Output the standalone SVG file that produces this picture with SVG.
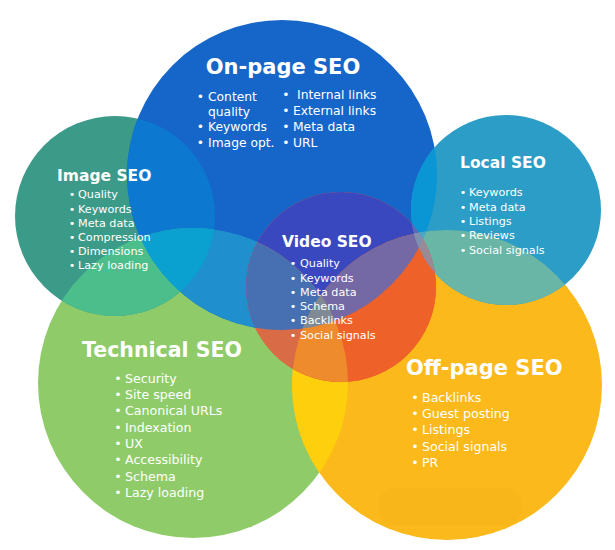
<svg xmlns="http://www.w3.org/2000/svg" xmlns:xlink="http://www.w3.org/1999/xlink" width="615" height="550" viewBox="0 0 615 550">
<style>
  .t{font-family:"DejaVu Sans","Liberation Sans",sans-serif;fill:#ffffff;}
  .h{font-weight:700;}
  .big{font-size:21px;}
  .mid{font-size:15.5px;}
  .l1{font-size:12.3px;}
  .l2{font-size:11.2px;}
  .l3{font-size:12.6px;}
</style>
<defs>
  <circle id="cI" cx="115" cy="216" r="100"/>
  <circle id="cO" cx="282" cy="175" r="155"/>
  <circle id="cL" cx="506" cy="210" r="95"/>
  <circle id="cT" cx="193" cy="383" r="155"/>
  <circle id="cF" cx="447" cy="385" r="155"/>
  <circle id="cV" cx="341" cy="287" r="95"/>
  <clipPath id="kI"><circle cx="115" cy="216" r="100"/></clipPath>
  <clipPath id="kO"><circle cx="282" cy="175" r="155"/></clipPath>
  <clipPath id="kL"><circle cx="506" cy="210" r="95"/></clipPath>
  <clipPath id="kT"><circle cx="193" cy="383" r="155"/></clipPath>
  <clipPath id="kF"><circle cx="447" cy="385" r="155"/></clipPath>
</defs>
<rect width="615" height="550" fill="#ffffff"/>
<g id="circles">
  <use id="circle-technical-seo" xlink:href="#cT" fill="#8fcc69"/>
  <use id="circle-off-page-seo" xlink:href="#cF" fill="#fbb91c"/>
  <use id="circle-image-seo" xlink:href="#cI" fill="#3c9a89"/>
  <use id="circle-on-page-seo" xlink:href="#cO" fill="#1666c9"/>
  <use id="circle-local-seo" xlink:href="#cL" fill="#2b9dc6"/>
  <use id="circle-video-seo" xlink:href="#cV" fill="#ee6128"/>
</g>
<g id="overlaps">
  <use xlink:href="#cO" clip-path="url(#kI)" fill="#0c78cf"/>
  <use xlink:href="#cT" clip-path="url(#kI)" fill="#4cbe8b"/>
  <use xlink:href="#cL" clip-path="url(#kO)" fill="#0a96d5"/>
  <use xlink:href="#cT" clip-path="url(#kO)" fill="#1f8fcd"/>
  <use xlink:href="#cF" clip-path="url(#kO)" fill="#3d8fc0"/>
  <use xlink:href="#cV" clip-path="url(#kO)" fill="#3a48c0"/>
  <use xlink:href="#cF" clip-path="url(#kL)" fill="#69b5a6"/>
  <use xlink:href="#cV" clip-path="url(#kL)" fill="#6a7fb0"/>
  <use xlink:href="#cF" clip-path="url(#kT)" fill="#fdcf0c"/>
  <use xlink:href="#cV" clip-path="url(#kT)" fill="#d96b47"/>
  <use xlink:href="#cV" clip-path="url(#kF)" fill="#ee6128"/>
  <g clip-path="url(#kI)"><use xlink:href="#cT" clip-path="url(#kO)" fill="#0aa0d0"/></g>
  <g clip-path="url(#kO)"><use xlink:href="#cV" clip-path="url(#kT)" fill="#4670b2"/></g>
  <g clip-path="url(#kO)"><use xlink:href="#cV" clip-path="url(#kF)" fill="#7469a4"/></g>
  <g clip-path="url(#kT)"><use xlink:href="#cV" clip-path="url(#kF)" fill="#ee8b2c"/></g>
  <g clip-path="url(#kO)"><use xlink:href="#cF" clip-path="url(#kL)" fill="#45a8c4"/></g>
  <g clip-path="url(#kO)"><use xlink:href="#cV" clip-path="url(#kL)" fill="#5a6ab8"/></g>
  <g clip-path="url(#kL)"><use xlink:href="#cV" clip-path="url(#kF)" fill="#9a8a98"/></g>
  <g clip-path="url(#kO)"><use xlink:href="#cF" clip-path="url(#kT)" fill="#8a8a80"/></g>
  <g clip-path="url(#kO)"><g clip-path="url(#kT)"><use xlink:href="#cV" clip-path="url(#kF)" fill="#7f8a94"/></g></g>
  <g clip-path="url(#kO)"><g clip-path="url(#kL)"><use xlink:href="#cV" clip-path="url(#kF)" fill="#7f8fb0"/></g></g>
  <rect x="378" y="488" width="144" height="37" rx="18" fill="#f2a814" opacity="0.15"/>
</g>
<g id="node-on-page-seo">
  <text class="t h big" x="283" y="74" text-anchor="middle">On-page SEO</text>
  <text class="t l1" y="101"><tspan x="196.8">•</tspan><tspan x="208">Content</tspan></text>
  <text class="t l1" x="208" y="115.5">quality</text>
  <text class="t l1" y="131"><tspan x="196.8">•</tspan><tspan x="208">Keywords</tspan></text>
  <text class="t l1" y="147"><tspan x="196.8">•</tspan><tspan x="208">Image opt.</tspan></text>
  <text class="t l1" y="99"><tspan x="282.3">•</tspan><tspan x="297">Internal links</tspan></text>
  <text class="t l1" y="115"><tspan x="282.3">•</tspan><tspan x="293">External links</tspan></text>
  <text class="t l1" y="131"><tspan x="282.3">•</tspan><tspan x="293">Meta data</tspan></text>
  <text class="t l1" y="147"><tspan x="282.3">•</tspan><tspan x="293">URL</tspan></text>
</g>
<g id="node-image-seo">
  <text class="t h mid" x="57" y="180.5">Image SEO</text>
  <text class="t l2" y="198"><tspan x="68.7">•</tspan><tspan x="78">Quality</tspan></text>
  <text class="t l2" y="213"><tspan x="68.7">•</tspan><tspan x="78">Keywords</tspan></text>
  <text class="t l2" y="227"><tspan x="68.7">•</tspan><tspan x="78">Meta data</tspan></text>
  <text class="t l2" y="241"><tspan x="68.7">•</tspan><tspan x="78">Compression</tspan></text>
  <text class="t l2" y="255"><tspan x="68.7">•</tspan><tspan x="78">Dimensions</tspan></text>
  <text class="t l2" y="269"><tspan x="68.7">•</tspan><tspan x="78">Lazy loading</tspan></text>
</g>
<g id="node-local-seo">
  <text class="t h mid" x="460" y="168">Local SEO</text>
  <text class="t l2" y="196"><tspan x="459.7">•</tspan><tspan x="469">Keywords</tspan></text>
  <text class="t l2" y="211"><tspan x="459.7">•</tspan><tspan x="469">Meta data</tspan></text>
  <text class="t l2" y="225"><tspan x="459.7">•</tspan><tspan x="469">Listings</tspan></text>
  <text class="t l2" y="239"><tspan x="459.7">•</tspan><tspan x="469">Reviews</tspan></text>
  <text class="t l2" y="254"><tspan x="459.7">•</tspan><tspan x="469">Social signals</tspan></text>
</g>
<g id="node-video-seo">
  <text class="t h mid" x="282" y="247">Video SEO</text>
  <text class="t l2" y="267"><tspan x="289.7">•</tspan><tspan x="300">Quality</tspan></text>
  <text class="t l2" y="282"><tspan x="289.7">•</tspan><tspan x="300">Keywords</tspan></text>
  <text class="t l2" y="296"><tspan x="289.7">•</tspan><tspan x="300">Meta data</tspan></text>
  <text class="t l2" y="310"><tspan x="289.7">•</tspan><tspan x="300">Schema</tspan></text>
  <text class="t l2" y="324"><tspan x="289.7">•</tspan><tspan x="300">Backlinks</tspan></text>
  <text class="t l2" y="339"><tspan x="289.7">•</tspan><tspan x="300">Social signals</tspan></text>
</g>
<g id="node-technical-seo">
  <text class="t h" style="font-size:20.5px" x="82" y="357">Technical SEO</text>
  <text class="t l3" y="383"><tspan x="114.3">•</tspan><tspan x="125">Security</tspan></text>
  <text class="t l3" y="399"><tspan x="114.3">•</tspan><tspan x="125">Site speed</tspan></text>
  <text class="t l3" y="415"><tspan x="114.3">•</tspan><tspan x="125">Canonical URLs</tspan></text>
  <text class="t l3" y="432"><tspan x="114.3">•</tspan><tspan x="125">Indexation</tspan></text>
  <text class="t l3" y="448"><tspan x="114.3">•</tspan><tspan x="125">UX</tspan></text>
  <text class="t l3" y="464"><tspan x="114.3">•</tspan><tspan x="125">Accessibility</tspan></text>
  <text class="t l3" y="481"><tspan x="114.3">•</tspan><tspan x="125">Schema</tspan></text>
  <text class="t l3" y="497"><tspan x="114.3">•</tspan><tspan x="125">Lazy loading</tspan></text>
</g>
<g id="node-off-page-seo">
  <text class="t h big" x="406" y="375">Off-page SEO</text>
  <text class="t l3" y="402"><tspan x="411.3">•</tspan><tspan x="422">Backlinks</tspan></text>
  <text class="t l3" y="418"><tspan x="411.3">•</tspan><tspan x="422">Guest posting</tspan></text>
  <text class="t l3" y="434"><tspan x="411.3">•</tspan><tspan x="422">Listings</tspan></text>
  <text class="t l3" y="451"><tspan x="411.3">•</tspan><tspan x="422">Social signals</tspan></text>
  <text class="t l3" y="467"><tspan x="411.3">•</tspan><tspan x="422">PR</tspan></text>
</g>
</svg>
